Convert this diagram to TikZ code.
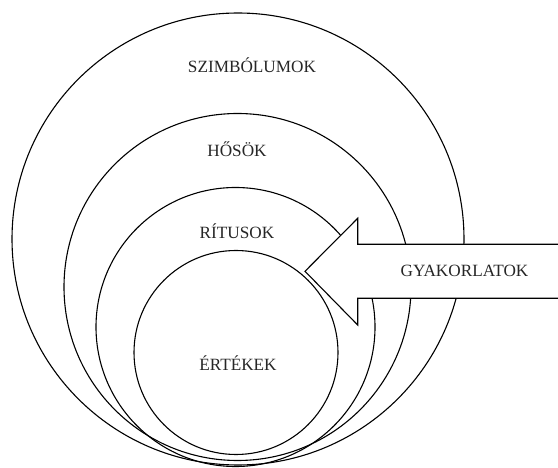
\documentclass[tikz,border=0pt]{standalone}
\usepackage{fontspec}
\setmainfont{Liberation Serif}
\begin{document}
\begin{tikzpicture}[x=1pt,y=-1pt,
  ring/.style={circle,draw=black,line width=1.1pt,inner sep=0pt,outer sep=0pt},
  lbl/.style={inner sep=0pt,font=\fontsize{17.2}{20}\selectfont,text=black!85}]
\useasboundingbox (0,0) rectangle (558,468);
\node[ring,minimum size=452] (c1) at (238,239) {};
\node[ring,minimum size=347] (c2) at (237.5,287) {};
\node[ring,minimum size=279] (c3) at (235.5,327) {};
\node[ring,minimum size=204] (c4) at (236,352.5) {};
\draw[line width=1.1pt,fill=white] (305,271.3) coordinate (tip) -- (357.7,218.3) -- (357.7,244.3) -- (560,244.3)
  -- (560,298.3) -- (357.7,298.3) -- (357.7,325) -- cycle;
\node[lbl] (t1) at (252,65) {SZIMBÓLUMOK};
\node[lbl] (t2) at (237,149) {HŐSÖK};
\node[lbl] (t3) at (237,231) {RÍTUSOK};
\node[lbl] (t4) at (238,363) {ÉRTÉKEK};
\node[lbl] (t5) at (464.5,271) {GYAKORLATOK};
\end{tikzpicture}
\end{document}
